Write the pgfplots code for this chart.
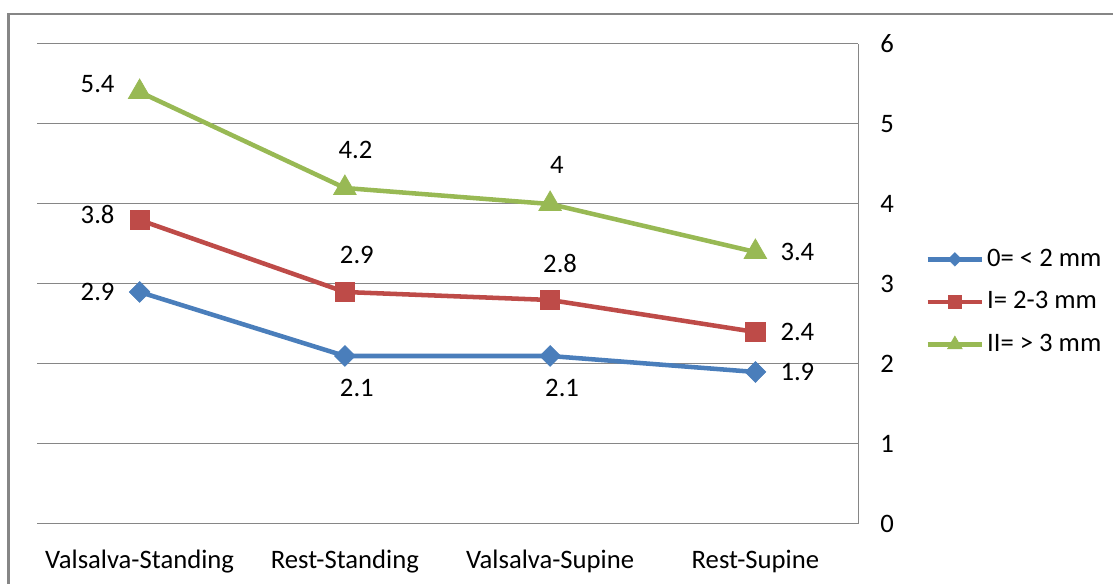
\documentclass[border=0pt]{standalone}
\usepackage{pgfplots}
\pgfplotsset{compat=1.18}
\usepackage{fontspec}
\setmainfont{Carlito}
\definecolor{cblue}{HTML}{4A7EBB}
\definecolor{cred}{HTML}{BE4B48}
\definecolor{cgreen}{HTML}{98B954}
\definecolor{cgrid}{HTML}{868686}
\begin{document}
\fontsize{20}{24}\selectfont
\begin{tikzpicture}
\path[use as bounding box] (0,0) rectangle (834.75pt,-438pt);
\draw[cgrid, line width=1.8pt] (6.5pt,-600pt) -- (6.5pt,-10.5pt) -- (900pt,-10.5pt);
\begin{axis}[at={(27.75pt,-33pt)}, anchor=north west, scale only axis,
  width=615.75pt, height=360pt,
  xmin=-0.5, xmax=3.5, ymin=0, ymax=6,
  axis x line*=bottom, axis y line*=right,
  axis line style={cgrid, line width=0.75pt, -},
  ymajorgrids, grid style={cgrid, line width=0.75pt},
  major tick length=0pt,
  xtick={0,1,2,3},
  xticklabels={Valsalva-Standing,Rest-Standing,Valsalva-Supine,Rest-Supine},
  ytick={0,1,2,3,4,5,6},
  /pgf/number format/assume math mode=true,
  tick label style={font=\fontsize{20}{24}\selectfont, text=black},
  xticklabel style={yshift=-12.5pt},
  yticklabel style={anchor=west, xshift=10pt},
  legend style={at={(1.0816,0.4625)}, anchor=west, draw=none, fill=none,
    font=\fontsize{20}{24}\selectfont, row sep=12pt, inner sep=0pt},
  legend cell align=left,
  legend image code/.code={\draw[#1, mark=none] (0pt,0pt) -- (41pt,0pt);
    \draw[#1, every mark/.append style={scale=0.65}] plot coordinates {(20.5pt,0pt)};},
  clip=false,
]
\addplot[cblue, line width=3.4pt, mark=diamond*, mark size=7.8pt,
  mark options={solid, fill=cblue, line width=0.5pt, xscale=1.333}]
  coordinates {(0,2.9) (1,2.1) (2,2.1) (3,1.9)};
\addlegendentry{0= < 2 mm}
\addplot[cred, line width=3.4pt, mark=square*, mark size=7.2pt,
  mark options={solid, fill=cred, line width=0.5pt}]
  coordinates {(0,3.8) (1,2.9) (2,2.8) (3,2.4)};
\addlegendentry{I= 2-3 mm}
\addplot[cgreen, line width=3.4pt, mark=triangle*, mark size=9.8pt,
  mark options={solid, fill=cgreen, line width=0.5pt}]
  coordinates {(0,5.4) (1,4.2) (2,4) (3,3.4)};
\addlegendentry{II= > 3 mm}
% data labels
\node at (axis cs:0,2.9) [xshift=-31.5pt] {2.9};
\node at (axis cs:1,2.1) [xshift=9pt, yshift=-24pt] {2.1};
\node at (axis cs:2,2.1) [xshift=9pt, yshift=-24pt] {2.1};
\node at (axis cs:3,1.9) [xshift=31.5pt] {1.9};
\node at (axis cs:0,3.8) [xshift=-31.5pt, yshift=3.75pt] {3.8};
\node at (axis cs:1,2.9) [xshift=9pt, yshift=27.75pt] {2.9};
\node at (axis cs:2,2.8) [xshift=7.5pt, yshift=27pt] {2.8};
\node at (axis cs:3,2.4) [xshift=31.5pt] {2.4};
\node at (axis cs:0,5.4) [xshift=-31.5pt, yshift=6pt] {5.4};
\node at (axis cs:1,4.2) [xshift=8pt, yshift=28.5pt] {4.2};
\node at (axis cs:2,4) [xshift=5pt, yshift=29pt] {4};
\node at (axis cs:3,3.4) [xshift=31.5pt] {3.4};
\end{axis}
\end{tikzpicture}
\end{document}
